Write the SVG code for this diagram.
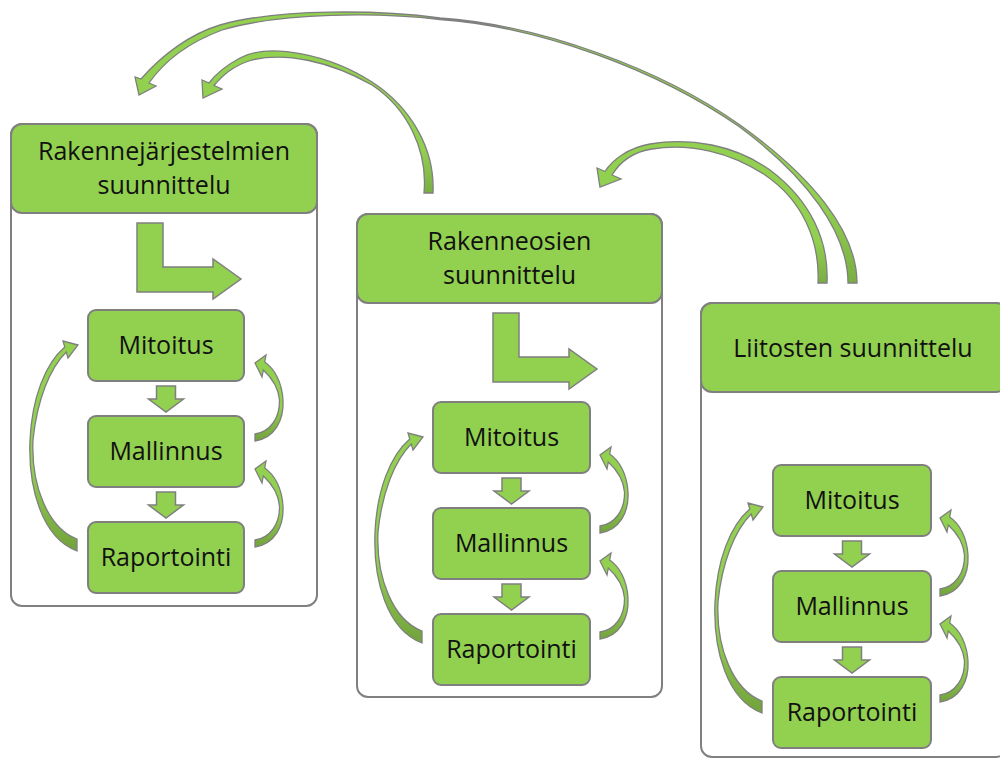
<svg xmlns="http://www.w3.org/2000/svg" xmlns:xlink="http://www.w3.org/1999/xlink" width="1000" height="760" viewBox="0 0 1000 760">
<style>
.cont{fill:#FFFFFF;stroke:#808080;stroke-width:2}
.box{fill:#92D050;stroke:#7F7F7F;stroke-width:2}
.arr{fill:#92D050;stroke:#7F7F7F;stroke-width:1.5;stroke-linejoin:miter}
.sh{fill:url(#shadeV);stroke:#7F7F7F;stroke-width:1.3}
.shT{fill:url(#shadeT);stroke:#7F7F7F;stroke-width:1.3}
text{font-family:"Open Sans","Noto Sans","DejaVu Sans",sans-serif;font-size:25px;fill:#111111;text-anchor:middle}
</style>
<defs>
<linearGradient id="shadeV" x1="0" y1="0" x2="0" y2="1">
<stop offset="0" stop-color="#92D050"/><stop offset="0.6" stop-color="#92D050"/><stop offset="1" stop-color="#72A23C"/>
</linearGradient>
<linearGradient id="shadeT" x1="0" y1="0" x2="0" y2="1">
<stop offset="0" stop-color="#92D050"/><stop offset="0.7" stop-color="#92D050"/><stop offset="1" stop-color="#7AAE44"/>
</linearGradient>
<path id="bent" d="M137,223 L163,223 L163,267 L213,267 L213,259 L241,279 L213,299 L213,292 L137,292 Z"/>
<path id="down" d="M-9.5,0 L9.5,0 L9.5,13 L17.5,13 L0,26 L-17.5,13 L-9.5,13 Z"/>
<path id="loopL" d="M77,551 C42,538 28,488 30,440 C32,398 45,364 64.75,347 L63,341 L78,345 L68,358 L66.25,352 C50,368 37,400 33,440 C31,486 48,528 77,539 Z"/>
<path id="loopR" d="M255,441 C275,438 284,420 283,400 C282,383 275,369 264.7,362 L266,355 L255,363 L262,377 L263.3,370 C272,378 278.5,388 279.5,400 C280,418 270,432 255,434 Z"/>
</defs>

<g id="col1">
<rect class="cont" x="11" y="124" width="306" height="482" rx="11"/>
<g id="col1-header">
<rect class="box" x="11" y="124" width="306" height="89" rx="11"/>
<text x="164" y="160">Rakennejärjestelmien</text>
<text x="164" y="194">suunnittelu</text>
</g>
<g id="col1-mitoitus"><rect class="box" x="88" y="310" width="156" height="71" rx="8"/><text x="166" y="354">Mitoitus</text></g>
<g id="col1-mallinnus"><rect class="box" x="88" y="416" width="156" height="71" rx="8"/><text x="166" y="460">Mallinnus</text></g>
<g id="col1-raportointi"><rect class="box" x="88" y="522" width="156" height="71" rx="8"/><text x="166" y="566">Raportointi</text></g>
</g>

<g id="col2">
<rect class="cont" x="357" y="214" width="305" height="483" rx="11"/>
<g id="col2-header">
<rect class="box" x="357" y="214" width="305" height="89" rx="11"/>
<text x="509.5" y="250">Rakenneosien</text>
<text x="509.5" y="284">suunnittelu</text>
</g>
<g id="col2-mitoitus"><rect class="box" x="433" y="402" width="157" height="71" rx="8"/><text x="511.5" y="446">Mitoitus</text></g>
<g id="col2-mallinnus"><rect class="box" x="433" y="508" width="157" height="71" rx="8"/><text x="511.5" y="552">Mallinnus</text></g>
<g id="col2-raportointi"><rect class="box" x="433" y="614" width="157" height="71" rx="8"/><text x="511.5" y="658">Raportointi</text></g>
</g>

<g id="col3">
<rect class="cont" x="701" y="303" width="306" height="454" rx="11"/>
<g id="col3-header">
<rect class="box" x="701" y="303" width="306" height="89" rx="11"/>
<text x="853" y="357">Liitosten suunnittelu</text>
</g>
<g id="col3-mitoitus"><rect class="box" x="773" y="465" width="158" height="71" rx="8"/><text x="852" y="509">Mitoitus</text></g>
<g id="col3-mallinnus"><rect class="box" x="773" y="571" width="158" height="71" rx="8"/><text x="852" y="615">Mallinnus</text></g>
<g id="col3-raportointi"><rect class="box" x="773" y="677" width="158" height="71" rx="8"/><text x="852" y="721">Raportointi</text></g>
</g>

<g id="connectors">
<use xlink:href="#bent" class="arr"/>
<use xlink:href="#bent" class="arr" transform="translate(356,90)"/>

<use xlink:href="#down" class="arr" transform="translate(166,386)"/>
<use xlink:href="#down" class="arr" transform="translate(166,492)"/>
<use xlink:href="#down" class="arr" transform="translate(511.5,478)"/>
<use xlink:href="#down" class="arr" transform="translate(511.5,584)"/>
<use xlink:href="#down" class="arr" transform="translate(852,541)"/>
<use xlink:href="#down" class="arr" transform="translate(852,647)"/>

<use xlink:href="#loopL" class="sh"/>
<use xlink:href="#loopR" class="sh"/>
<use xlink:href="#loopR" class="sh" transform="translate(0,106)"/>

<use xlink:href="#loopL" class="sh" transform="translate(345,92)"/>
<use xlink:href="#loopR" class="sh" transform="translate(345,92)"/>
<use xlink:href="#loopR" class="sh" transform="translate(345,198)"/>

<use xlink:href="#loopL" class="sh" transform="translate(685,162)"/>
<use xlink:href="#loopR" class="sh" transform="translate(685,155)"/>
<use xlink:href="#loopR" class="sh" transform="translate(685,261)"/>

<path id="back-arrow-a" class="shT" d="M857,283 C857,230 810,175 740,125 C660,68 540,25 440,18 C380,10 280,8 220,25 C190,34 162,55 141,79 L135,77 L139,95 L156,86 L149,83 C165,60 190,42 222,30 C282,12 380,12.5 440,19.5 C540,26.5 657,70 739,126.5 C806,176 848,232 848,283 Z"/>
<path id="back-arrow-b" class="shT" d="M433,193 C435,150 412,108 372,82 C330,55 270,42 240,58 C225,66 215,75 209,83 L202,80 L203,98 L222,89 L214,85.5 C222,76 232,66 252,60 C285,52 330,61 372,85 C407,108 428,150 424,193 Z"/>
<path id="back-arrow-c" class="shT" d="M827,283 C829,240 810,200 770,170 C735,145 690,137 650,144 C628,148 612,160 605,171.5 L597,168 L600,187 L621,179 L612,175 C620,162 632,152 652,149 C690,143 730,152 765,175 C802,200 820,240 818,283 Z"/>
</g>
</svg>
